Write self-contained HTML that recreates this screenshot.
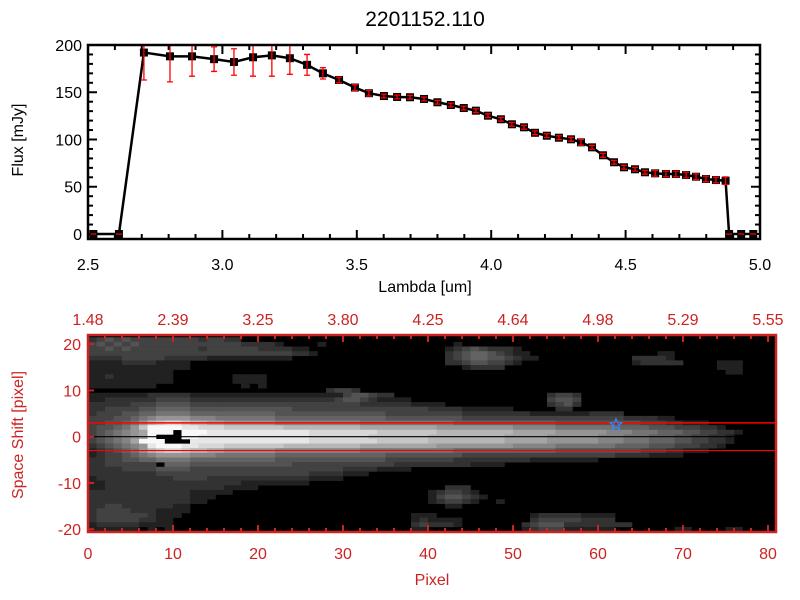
<!DOCTYPE html>
<html><head><meta charset="utf-8"><style>
html,body{margin:0;padding:0;background:#fff;width:800px;height:600px;overflow:hidden}
svg text{font-family:"Liberation Sans",sans-serif}
</style></head><body>
<svg id="svg" width="800" height="600" viewBox="0 0 800 600" xmlns="http://www.w3.org/2000/svg">
<text x="425" y="26" font-size="21" text-anchor="middle">2201152.110</text>
<g id="top"></g>
<g id="bot"></g>
</svg>
<script>
const lambdas=[2.52,2.615,2.708,2.805,2.887,2.969,3.043,3.114,3.184,3.251,3.315,3.374,3.434,3.493,3.545,3.601,3.650,3.698,3.750,3.800,3.850,3.898,3.943,3.988,4.036,4.077,4.122,4.163,4.207,4.252,4.297,4.334,4.375,4.416,4.457,4.494,4.535,4.572,4.610,4.650,4.687,4.725,4.762,4.799,4.836,4.872,4.885,4.93,4.975];
const flux=[0,0,192,188,188,185,182,187,189,186,179,170,163,155,149,146,145,144.7,142.9,139.4,136.5,133.3,130.5,125.2,121.4,116.1,112.9,107.1,104,101.9,100.2,97,91.7,83.3,75.9,70.6,68.5,65.3,64.2,63.5,63.5,62.4,60.6,58.2,57.1,56.4,0,0,0];
const errs=[0,0,29,27,21,13,14,20,22,17,11,6,3,3,3,2,2,2,2,2,2,2,2,2,2,2,2,2,2,2,2,3,2,2,2,2,2,2,3,3,3,3,3,3,3,4,0,0,0];
const xTicks=[2.5,3.0,3.5,4.0,4.5,5.0];
const yTicks=[0,50,100,150,200];
const pixTicks=[0,10,20,30,40,50,60,70,80];
const topTickLabels=["1.48","2.39","3.25","3.80","4.25","4.64","4.98","5.29","5.55"];
const shiftTicks=[20,10,0,-10,-20];
const imgRows=[
"345454444444434433000000000000000000000000000000000000000000000000000000000000000",
"454545444444444444333320000200000000000000020000000000000000000000000000000000000",
"445454444444434444443333220000000000000000234543332000000000000000000000000000000",
"444444444444444444444444332000000000000000345665432200000000000000022000000000000",
"333344444333332222222222000000000000000000345665543220000000000033332000000000000",
"222233332222000000000000000000000000000000334554432000000000000023333300002220000",
"222222222222000000000000000000000000000000002333300000000000000000000000002220000",
"222222222200000000000000000000000000000000000000000000000000000000000000000220000",
"223222222200000002222000000000000000000000000000000000000000000000000000000000000",
"222222222200000002222000000000000000000000000000000000000000000000000000000000000",
"222222220000000000202000000000000000000000000000000000000000000000000000000000000",
"000000000000000000000000000034430000000000000000000000000000000000000000000000000",
"222222233333222222222222222222455433000000000000000000344300000000000000000000000",
"223333334444333333333333333334554322220000000000000000455400000000000000000000000",
"333334445555444444444444444444443333332222000000000000345300000000000000000000000",
"334444556666555555555555444444444444444433332222220000033000000000000000000000000",
"344455667777666666666655555555555554444444443333333322222223333000000000000000000",
"444556789999888777777766666666666665555555554444444444444444444333322000000000000",
"4455679bcddcbbaa99999988888888887777777777766666666666655555555554443322200000000",
"455679cffffeedddcccccccbbbbbbbbbaaaaaaaaa99999999988888777777766665554443320000000",
"456789afff0fffeeeeeeeeeeeeddddddddcccccccbbbbbbbbbaaaaa999999888777666554433200000",
"456789af000ffeeeeeeeeeeeeedddddddcccccccbbbbbbbbbaaaaa9999998887776665544332000000",
"45678afff000eeeeeeeeeeeeeeddddddddccccccbbbbbbbbbaaaaa9999998887776665544332000000",
"3456789efffeedddcccccccbbbbbbbbbaaaaaaaaa99999999988888777777766665554443320000000",
"2345679bcddcbbaa99999988888888887777777777766666666666655555555554443322200000000",
"234456789999888777777766666666666665555555554444444444444444443333222200000000000",
"334455667777666666666655555555555554444444433333333322222222000000000000000000000",
"334444440666555555555555444444444444333333333222200000000000000000000000000000000",
"333344445555444444444444444444333322220000000000000000000000000000000000000000000",
"333333334444444444444444443333222000000000000000000000000000000000000000000000000",
"233333333344443333333333332222000000000000000000000000000000000000000000000000000",
"223333333333333333222222220000000000000000000000000000000000000000000000000000000",
"223333333333333322220000000000000000000000333000000000000000000000000000000000000",
"333333333333222220000000000000000000000023443200000000000000000000000000000000000",
"333333333333222000000000000000000000000024554320000000000000000000000000000000000",
"333333333333220000000000000000000000000023443200200000000000000000000000000000000",
"334433333322000000000000000000000000000000220000000000000000000000000000000000000",
"344443332222000000000000000000000000000000000000000000000000000000000000000000000",
"344444432220000000000000000000000000002220000000000023333322220000000000000000000",
"344444332200000000000000000000000000002322220000000034444433330000000000000000000",
"233333222200000000000000000000000000003433320000000345553333333300000000000000000",
"222222020200000000000000000000000000002200000000000234442222220000000220000220000",
"000000000000000000000000000000000000000000000000000000000000000000000000000000000"
];
const NS="http://www.w3.org/2000/svg";
function mk(parent,tag,attrs){const e=document.createElementNS(NS,tag);for(const k in attrs)e.setAttribute(k,attrs[k]);parent.appendChild(e);return e;}
const T=document.getElementById('top');
const tx0=88,tx1=760,ty0=45,ty1=239,lmin=2.5,lmax=5.0,fmin=-5.3,fmax=200;
const X=l=>tx0+(l-lmin)/(lmax-lmin)*(tx1-tx0);
const Y=f=>ty1-(f-fmin)/(fmax-fmin)*(ty1-ty0);
for(let v=2.5;v<=5.0001;v+=0.1){const big=Math.abs(v*2-Math.round(v*2))<1e-6;const L=big?9:5;
 const a=mk(T,'line',{x1:X(v),x2:X(v),y1:ty1,y2:ty1-L,stroke:'#000','stroke-width':2});
 
 const b=mk(T,'line',{x1:X(v),x2:X(v),y1:ty0,y2:ty0+L,stroke:'#000','stroke-width':2});
 }
for(let v=0;v<=200;v+=10){const big=v%50===0;const L=big?9:5;
 const a=mk(T,'line',{x1:tx0,x2:tx0+L,y1:Y(v),y2:Y(v),stroke:'#000','stroke-width':2});
 
 const b=mk(T,'line',{x1:tx1,x2:tx1-L,y1:Y(v),y2:Y(v),stroke:'#000','stroke-width':2});
 }
xTicks.forEach(v=>{const t=mk(T,'text',{x:X(v),y:270,'font-size':16,'text-anchor':'middle'});t.textContent=v.toFixed(1);
 });
yTicks.forEach(v=>{const t=mk(T,'text',{x:82,y:Y(v)+6,'font-size':16,'text-anchor':'end'});t.textContent=String(v);
 });
const xl=mk(T,'text',{x:425,y:292,'font-size':16,'text-anchor':'middle'});xl.textContent='Lambda [um]';

const yl=mk(T,'text',{x:0,y:0,'font-size':16,'text-anchor':'middle',transform:'translate(23,140) rotate(-90)'});yl.textContent='Flux [mJy]';

const pl=mk(T,'polyline',{points:lambdas.map((l,i)=>X(l)+','+Y(flux[i])).join(' '),fill:'none',stroke:'#000','stroke-width':2.5});

lambdas.forEach((l,i)=>{const px=X(l),py=Y(flux[i]);
 const m=mk(T,'rect',{x:px-4,y:py-4,width:8,height:8,fill:'#000'});
 
 const e=errs[i];const ya=Math.max(Y(flux[i]+e),ty0),yb=Y(flux[i]-e);
 const g=mk(T,'path',{d:`M${px},${ya}V${yb}M${px-3},${ya}H${px+3}M${px-3},${yb}H${px+3}`,stroke:'#f00','stroke-width':1.3,fill:'none'});
 });
const fr=mk(T,'rect',{x:tx0,y:ty0,width:tx1-tx0,height:ty1-ty0,fill:'none',stroke:'#000','stroke-width':2.5});

const B=document.getElementById('bot');
const RED='#cc2222';
const bx0=88,bx1=776,by0=335,by1=532,cw=8.5,rowH=4.625,yc=436.7;
const PX=p=>bx0+p*cw;const SY=s=>yc-s*rowH;
mk(B,'rect',{x:bx0,y:by0,width:bx1-bx0,height:by1-by0,fill:'#000'});
const cp=mk(B,'clipPath',{id:'cl'});mk(cp,'rect',{x:bx0,y:by0,width:bx1-bx0,height:by1-by0});
const cells=mk(B,'g',{'clip-path':'url(#cl)'});

imgRows.forEach((row,r)=>{const s=21-r;for(let c=0;c<81;c++){const v=parseInt(row[c]||'0',16);if(!v)continue;const g=Math.round(v*16.5);
 const cell=mk(cells,'rect',{x:PX(c),y:SY(s)-rowH/2,width:cw+0.3,height:rowH+0.3,fill:`rgb(${g},${g},${g})`});
 }});
[[3,'#ff0000',1.5,'aperture-upper-line'],[0,'#000',1.2,'center-line'],[-3,'#ff0000',1.2,'aperture-lower-line']].forEach(([s,c,w,n])=>{
 const l=mk(B,'line',{x1:bx0,x2:bx1,y1:SY(s),y2:SY(s),stroke:c,'stroke-width':w});
 });
const st=mk(B,'polygon',{points:(()=>{const cx=PX(62)+1,cy=SY(2.6),p=[];for(let k=0;k<10;k++){const r=k%2?2.5:6,a=-Math.PI/2+k*Math.PI/5;p.push((cx+r*Math.cos(a)).toFixed(1)+','+(cy+r*Math.sin(a)).toFixed(1));}return p.join(' ');})(),fill:'none',stroke:'#3388ff','stroke-width':1.2});

for(let p=0;p<=80;p+=2){const big=p%10===0;const L=big?7:4;
 const a=mk(B,'line',{x1:PX(p),x2:PX(p),y1:by1,y2:by1-L,stroke:RED,'stroke-width':2});
 
 const b=mk(B,'line',{x1:PX(p),x2:PX(p),y1:by0,y2:by0+L,stroke:RED,'stroke-width':2});
 }
shiftTicks.forEach(s=>{const a=mk(B,'line',{x1:bx0,x2:bx0+6,y1:SY(s),y2:SY(s),stroke:RED,'stroke-width':2});
 
 const t=mk(B,'text',{x:81,y:SY(s)+6,'font-size':16,'text-anchor':'end',fill:RED});t.textContent=String(s);
 });
pixTicks.forEach((p,i)=>{const t=mk(B,'text',{x:PX(p),y:559,'font-size':16,'text-anchor':'middle',fill:RED});t.textContent=String(p);
 
 const u=mk(B,'text',{x:PX(p),y:325,'font-size':16,'text-anchor':'middle',fill:RED});u.textContent=topTickLabels[i];
 });
const bf=mk(B,'rect',{x:bx0,y:by0,width:bx1-bx0,height:by1-by0,fill:'none',stroke:RED,'stroke-width':2.5});

const px=mk(B,'text',{x:432,y:585,'font-size':16,'text-anchor':'middle',fill:RED});px.textContent='Pixel';

const sy=mk(B,'text',{x:0,y:0,'font-size':16,'text-anchor':'middle',fill:RED,transform:'translate(23,435) rotate(-90)'});sy.textContent='Space Shift [pixel]';

</script>
</body></html>
